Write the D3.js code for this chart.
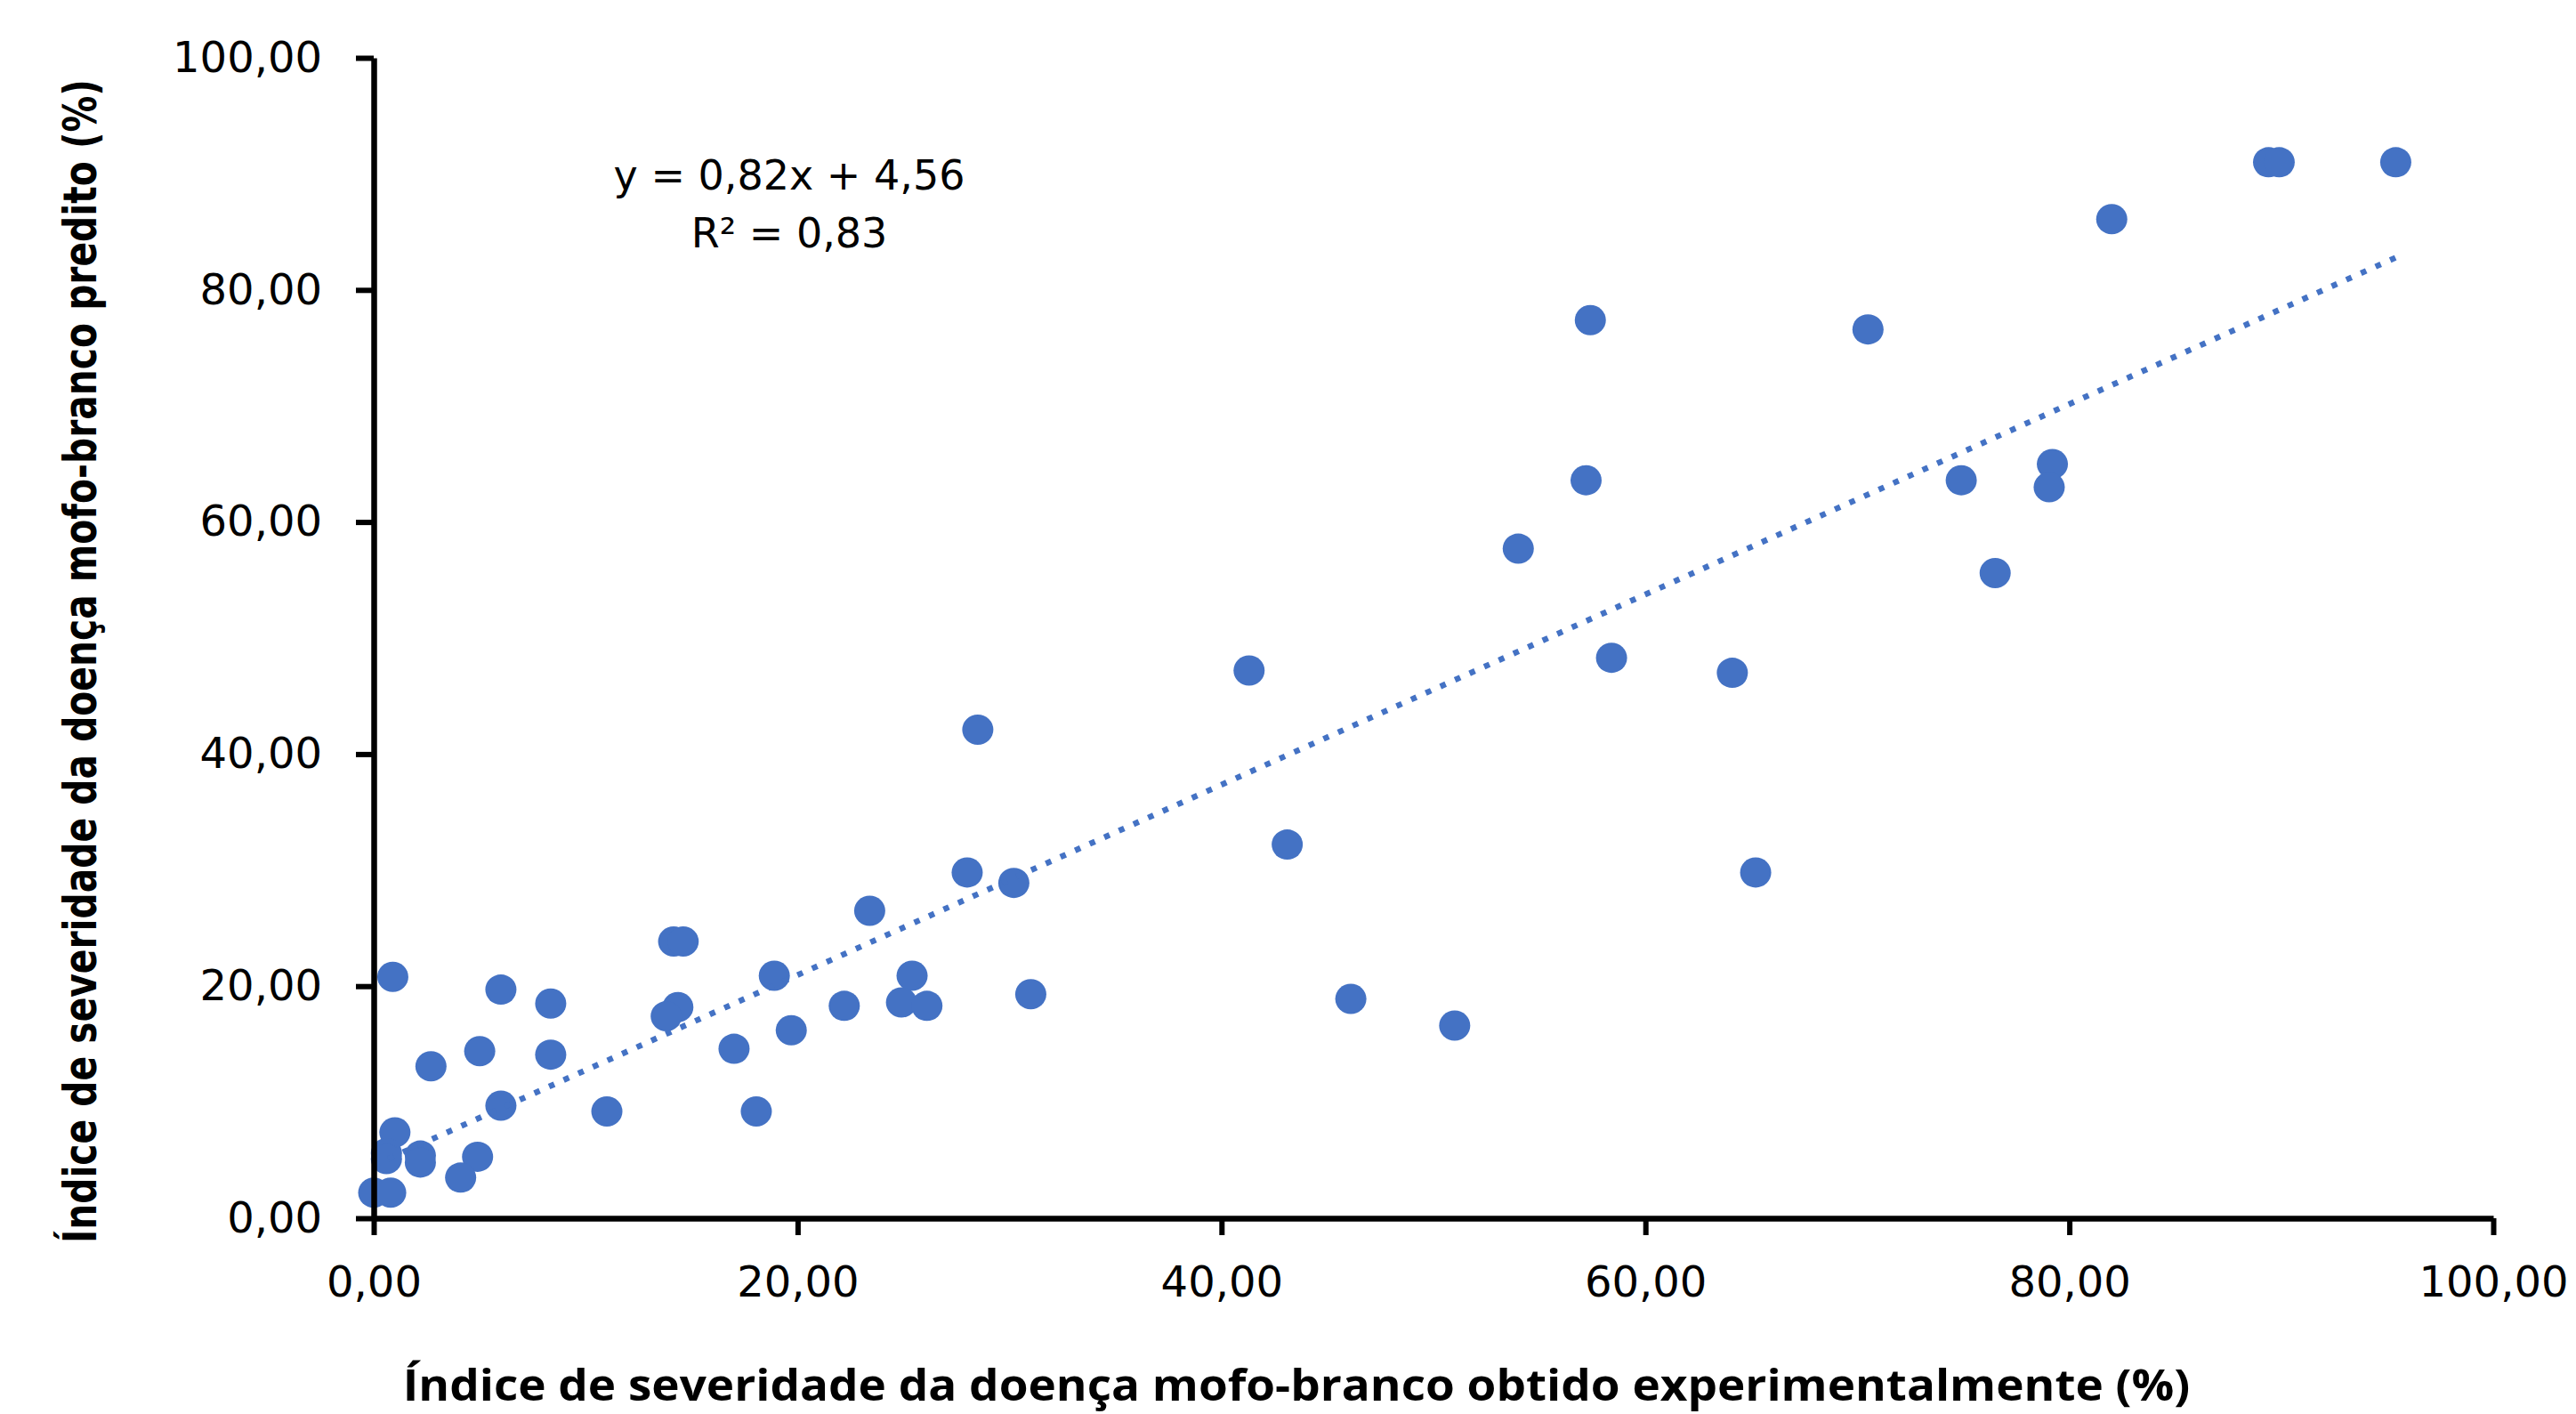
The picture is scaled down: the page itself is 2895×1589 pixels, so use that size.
<!DOCTYPE html>
<html>
<head>
<meta charset="utf-8">
<script src="https://cdn.jsdelivr.net/npm/d3@7"></script>
<style>
    body { margin: 0; background: #fff; }
    svg { display: block; }
</style>
</head>
<body>
<div id="chart"></div>
<script>
var observed = [95.4, 89.4, 89.9, 82.0, 57.4, 70.5, 79.2, 79.05, 74.9, 57.2, 54.0, 76.5, 58.4, 64.1,
    41.3, 28.5, 43.1, 65.2, 28.0, 30.2, 23.4, 46.1, 51.0,
    14.15, 14.6, 0.9, 6.0, 8.35, 18.9, 25.4, 14.35, 13.8, 22.2, 24.9, 26.1, 31.0, 19.7, 17.0,
    2.7, 5.0, 8.35, 6.0, 11.0, 18.05, 1.0, 0.6, 0.6, 2.2, 2.2, 4.9, 4.1, 0.0, 0.8];
var predicted = [91.0, 91.0, 91.0, 86.1, 77.4, 76.6, 65.0, 63.0, 63.6, 63.6, 57.7, 55.6, 48.3, 47.0,
    47.2, 42.1, 32.2, 29.8, 29.8, 28.9, 26.5, 18.9, 16.6,
    23.85, 23.85, 20.8, 19.7, 18.5, 20.9, 20.9, 18.2, 17.4, 18.3, 18.6, 18.3, 19.3, 16.2, 14.6,
    13.1, 14.4, 14.1, 9.7, 9.2, 9.2, 7.4, 5.6, 5.1, 5.4, 4.8, 5.3, 3.5, 2.2, 2.2];

var xTicks = [0, 20, 40, 60, 80, 100];
var yTicks = [0, 20, 40, 60, 80, 100];

var slope = 0.82;
var intercept = 4.56;
var equationLines = ["y = 0,82x + 4,56", "R\u00b2 = 0,83"];

var xTitle = "\u00cdndice de severidade da doen\u00e7a mofo-branco obtido experimentalmente (%)";
var yTitle = "\u00cdndice de severidade da doen\u00e7a mofo-branco predito (%)";

var width = 2895,
    height = 1589;
var blue = "#4472C4";

var points = observed.map(function (d, i) {
    return { x: d, y: predicted[i] };
});

var ptBR = d3.formatLocale({ decimal: ",", thousands: ".", grouping: [3], currency: ["R$", ""] });
var fmt = ptBR.format(".2f");

var svg = d3.select("#chart").append("svg")
    .attr("width", width)
    .attr("height", height);

svg.append("rect")
    .attr("width", width)
    .attr("height", height)
    .attr("fill", "#fff");

var x = d3.scaleLinear()
    .domain([0, 100])
    .range([420, 2802]);

var y = d3.scaleLinear()
    .domain([0, 100])
    .range([1369, 65]);

// points
svg.append("g")
    .attr("class", "points")
    .selectAll("ellipse")
    .data(points)
    .enter()
    .append("ellipse")
    .attr("cx", function (d) { return x(d.x); })
    .attr("cy", function (d) { return y(d.y); })
    .attr("rx", 17.5)
    .attr("ry", 17)
    .attr("fill", blue);

// dotted trend line over the data range
var xMin = d3.min(observed),
    xMax = d3.max(observed);
svg.append("line")
    .attr("x1", x(xMin))
    .attr("y1", y(slope * xMin + intercept))
    .attr("x2", x(xMax))
    .attr("y2", y(slope * xMax + intercept))
    .attr("stroke", blue)
    .attr("stroke-width", 6.5)
    .attr("stroke-dasharray", "6.5 11.5");

// axes
var xAxis = d3.axisBottom(x)
    .tickValues(xTicks)
    .tickFormat(fmt)
    .tickSize(19)
    .tickSizeOuter(0)
    .tickPadding(35);

var yAxis = d3.axisLeft(y)
    .tickValues(yTicks)
    .tickFormat(fmt)
    .tickSize(20)
    .tickSizeOuter(0)
    .tickPadding(38);

var gX = svg.append("g")
    .attr("transform", "translate(0," + y(0) + ")")
    .call(xAxis);

var gY = svg.append("g")
    .attr("transform", "translate(" + x(0) + ",0)")
    .call(yAxis);

[gX, gY].forEach(function (g) {
    g.select(".domain").attr("stroke", "#000").attr("stroke-width", 6.5);
    g.selectAll(".tick line").attr("stroke", "#000").attr("stroke-width", 6);
    g.selectAll(".tick text")
        .attr("fill", "#000")
        .style("font-family", "'DejaVu Sans', sans-serif")
        .style("font-size", "48px");
});

// regression label
svg.append("g")
    .selectAll("text")
    .data(equationLines)
    .enter()
    .append("text")
    .attr("x", 887)
    .attr("y", function (d, i) { return 213 + i * 65; })
    .attr("text-anchor", "middle")
    .style("font-family", "'DejaVu Sans', sans-serif")
    .style("font-size", "46px")
    .attr("fill", "#000")
    .text(function (d) { return d; });

// axis titles, squeezed along their length to the width seen in the figure
function squeezedTitle(text, family, size, length, place) {
    var t = svg.append("text")
        .attr("text-anchor", "middle")
        .style("font-family", family)
        .style("font-weight", "bold")
        .style("font-size", size + "px")
        .attr("fill", "#000")
        .text(text);
    var k = length / t.node().getComputedTextLength();
    t.attr("transform", place + " scale(" + k + ",1)");
    return t;
}

squeezedTitle(xTitle, "'Open Sans', sans-serif", 48, 2009, "translate(1457,1574)");
squeezedTitle(yTitle, "'DejaVu Sans', sans-serif", 52, 1308, "translate(108,743) rotate(-90)");
</script>
</body>
</html>
